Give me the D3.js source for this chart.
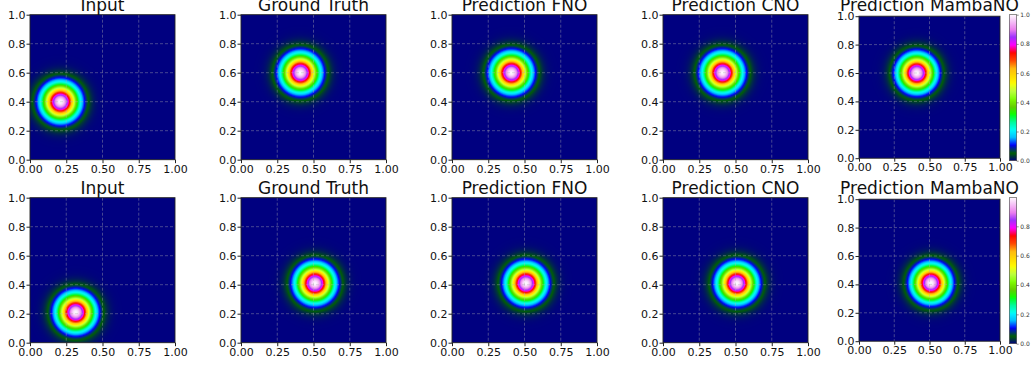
<!DOCTYPE html>
<html>
<head>
<meta charset="utf-8">
<script src="https://cdn.jsdelivr.net/npm/d3@7"></script>
<style>
  body { margin: 0; background: #fff; }
  svg { display: block; font-family: "DejaVu Sans", sans-serif; }
</style>
</head>
<body>
<div id="chart"></div>
<script>
// panel titles (same for both rows)
var titles = ["Input", "Ground Truth", "Prediction FNO", "Prediction CNO", "Prediction MambaNO"];

// gaussian blob per panel: centre x, centre y, peak value (row 1, row 2)
var blobX = [[0.21, 0.41, 0.41, 0.41, 0.41], [0.315, 0.51, 0.51, 0.51, 0.51]];
var blobY = [[0.40, 0.60, 0.60, 0.60, 0.60], [0.21, 0.41, 0.41, 0.41, 0.41]];
var blobPeak = [[1.0, 1.0, 1.0, 1.0, 1.0], [0.995, 0.995, 0.995, 0.995, 0.995]];
var blobWidth = 0.079;

var xTicks = [0, 0.25, 0.5, 0.75, 1];
var yTicks = [0, 0.2, 0.4, 0.6, 0.8, 1];
var cbarTicks = [0, 0.2, 0.4, 0.6, 0.8, 1.0];
var cbarMax = [1.0, 0.995];

// gist_ncar colormap stops
var cmR = [[0.0, 0.0], [0.3098, 0.0], [0.3725, 0.3993], [0.4235, 0.5003], [0.5333, 1.0], [0.7922, 1.0], [0.8471, 0.6218], [0.8980, 0.9235], [1.0, 0.9961]];
var cmG = [[0.0, 0.0], [0.0510, 0.3722], [0.1059, 0.0], [0.1569, 0.7202], [0.1608, 0.7537], [0.1647, 0.7752], [0.2157, 1.0], [0.2588, 0.9804], [0.2706, 0.9804], [0.3176, 1.0], [0.3686, 0.8081], [0.4275, 1.0], [0.5216, 1.0], [0.6314, 0.7292], [0.6863, 0.2796], [0.7451, 0.0], [0.7922, 0.0], [0.8431, 0.1753], [0.8980, 0.5], [1.0, 0.9725]];
var cmB = [[0.0, 0.5020], [0.0510, 0.0222], [0.1098, 1.0], [0.2039, 1.0], [0.2627, 0.6145], [0.3216, 0.0], [0.4157, 0.0], [0.4745, 0.2342], [0.5333, 0.0], [0.5804, 0.0], [0.6314, 0.0549], [0.6902, 0.0], [0.7373, 0.0], [0.7922, 0.9738], [0.8000, 1.0], [0.8431, 1.0], [0.8980, 0.9341], [1.0, 0.9961]];

function chan(stops) {
  return d3.scaleLinear()
    .domain(stops.map(function(s) { return s[0]; }))
    .range(stops.map(function(s) { return s[1] * 255; }))
    .clamp(true);
}
var cR = chan(cmR), cG = chan(cmG), cB = chan(cmB);

var width = 1032, height = 366;
var rowTop = [14.7, 197.7];
var panelLeft = [30, 241, 452, 663, 859];

var svg = d3.select("#chart")
  .append("svg")
    .attr("width", width)
    .attr("height", height);

// paint a field into a canvas and return it as a data url
function paint(w, h, f) {
  var cv = document.createElement("canvas");
  cv.width = w; cv.height = h;
  var ctx = cv.getContext("2d");
  var img = ctx.createImageData(w, h);
  for (var j = 0; j < h; j++) {
    for (var i = 0; i < w; i++) {
      var t = f(i, j), k = (j * w + i) * 4;
      img.data[k] = cR(t); img.data[k + 1] = cG(t); img.data[k + 2] = cB(t); img.data[k + 3] = 255;
    }
  }
  ctx.putImageData(img, 0, 0);
  return cv.toDataURL();
}

rowTop.forEach(function(top0, r) {
  titles.forEach(function(title, c) {
    var last = c === 4;
    var w = last ? 141 : 145, h = last ? 142 : 145;
    var left = panelLeft[c], top = top0 + (last ? 1.5 : 0);

    var x = d3.scaleLinear().domain([0, 1]).range([left, left + w]);
    var y = d3.scaleLinear().domain([0, 1]).range([top + h, top]);

    var g = svg.append("g");
    var vmax = cbarMax[r];
    var cx = blobX[r][c], cy = blobY[r][c], pk = blobPeak[r][c];
    var nw = Math.round(w), nh = Math.round(h);

    g.append("image")
      .attr("x", left).attr("y", top)
      .attr("width", w).attr("height", h)
      .attr("preserveAspectRatio", "none")
      .attr("href", paint(nw, nh, function(i, j) {
        var xv = (i + 0.5) / nw, yv = 1 - (j + 0.5) / nh;
        var d2 = (xv - cx) * (xv - cx) + (yv - cy) * (yv - cy);
        return pk * Math.exp(-d2 / (2 * blobWidth * blobWidth)) / vmax;
      }));

    // dashed grid
    g.selectAll(".gx")
      .data(xTicks.slice(1, -1))
      .enter().append("line")
        .attr("x1", function(d) { return x(d); }).attr("x2", function(d) { return x(d); })
        .attr("y1", top).attr("y2", top + h);
    g.selectAll(".gy")
      .data(yTicks.slice(1, -1))
      .enter().append("line")
        .attr("y1", function(d) { return y(d); }).attr("y2", function(d) { return y(d); })
        .attr("x1", left).attr("x2", left + w);
    g.selectAll("line")
      .attr("stroke", "#b0b0b0")
      .attr("stroke-opacity", 0.5)
      .attr("stroke-width", 0.8)
      .attr("stroke-dasharray", "3,2");

    g.append("rect")
      .attr("x", left).attr("y", top)
      .attr("width", w).attr("height", h)
      .attr("fill", "none")
      .attr("stroke", "#222")
      .attr("stroke-width", 0.9);

    var ax = g.append("g")
      .attr("transform", "translate(0," + (top + h) + ")")
      .call(d3.axisBottom(x).tickValues(xTicks).tickFormat(d3.format(".2f")).tickSize(3.5).tickPadding(2));
    var ay = g.append("g")
      .attr("transform", "translate(" + left + ",0)")
      .call(d3.axisLeft(y).tickValues(yTicks).tickFormat(d3.format(".1f")).tickSize(3.5).tickPadding(1));
    [ax, ay].forEach(function(a) {
      a.select(".domain").remove();
      a.selectAll("line").attr("stroke", "#222");
      a.selectAll("text").attr("fill", "#111").style("font-size", "11px").style("font-family", "DejaVu Sans");
    });

    g.append("text")
      .attr("x", left + w / 2)
      .attr("y", top0 - 3.7)
      .attr("text-anchor", "middle")
      .style("font-size", "17px")
      .attr("fill", "#111")
      .text(title);
  });

  // colorbar
  var cbx = 1009.3, cbw = 7.4, cbh = 146;
  var vmax = cbarMax[r];
  var cs = d3.scaleLinear().domain([0, vmax]).range([top0 + cbh, top0]);
  var cb = svg.append("g");
  cb.append("image")
    .attr("x", cbx).attr("y", top0)
    .attr("width", cbw).attr("height", cbh)
    .attr("preserveAspectRatio", "none")
    .attr("href", paint(1, 200, function(i, j) { return 1 - (j + 0.5) / 200; }));
  cb.append("rect")
    .attr("x", cbx).attr("y", top0)
    .attr("width", cbw).attr("height", cbh)
    .attr("fill", "none")
    .attr("stroke", "#444")
    .attr("stroke-width", 0.6);
  var ac = cb.append("g")
    .attr("transform", "translate(" + (cbx + cbw) + ",0)")
    .call(d3.axisRight(cs).tickValues(cbarTicks.filter(function(d) { return d <= vmax; })).tickFormat(d3.format(".1f")).tickSize(2).tickPadding(1.5));
  ac.select(".domain").remove();
  ac.selectAll("line").attr("stroke", "#444").attr("stroke-width", 0.6);
  ac.selectAll("text").attr("fill", "#333").style("font-size", "6px").style("font-family", "DejaVu Sans");
});
</script>
</body>
</html>
